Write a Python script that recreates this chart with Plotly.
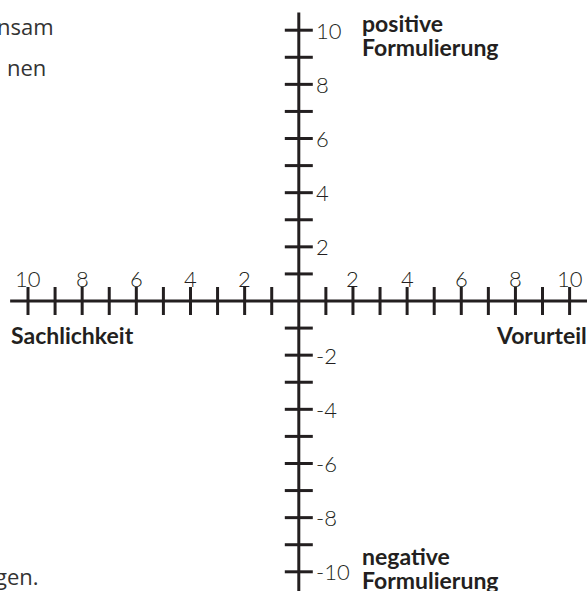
import plotly.graph_objects as go

# quadrant scale from -10 to 10 on both axes
x_ticks = [-10, -9, -8, -7, -6, -5, -4, -3, -2, -1, 1, 2, 3, 4, 5, 6, 7, 8, 9, 10]
y_ticks = [-10, -9, -8, -7, -6, -5, -4, -3, -2, -1, 1, 2, 3, 4, 5, 6, 7, 8, 9, 10]
x_label_vals = [-10, -8, -6, -4, -2, 2, 4, 6, 8, 10]
x_label_text = ["10", "8", "6", "4", "2", "2", "4", "6", "8", "10"]
y_label_vals = [10, 8, 6, 4, 2, -2, -4, -6, -8, -10]
y_label_text = ["10", "8", "6", "4", "2", "-2", "-4", "-6", "-8", "-10"]

# axis extents (end of the drawn lines)
x_axis_ends = [-10.66, 11.5]
y_axis_ends = [10.65, -11.5]

W, H = 587, 591
ORIGIN_X, ORIGIN_Y = 298.8, 301.0
PX_PER_UNIT = 27.08
INK = "#231f20"
LIGHT = dict(family="Lato", size=22, color=INK, weight=300)
BOLD = dict(family="Lato", size=23, color=INK, weight=700)
BODY = dict(family="Open Sans", size=22, color="#333333")


def px_x(p):
    return p / W


def px_y(p):
    return 1 - p / H


fig = go.Figure()

fig.add_trace(go.Scatter(x=x_axis_ends, y=[0, 0], mode="lines",
                         line=dict(color=INK, width=3), hoverinfo="skip"))
fig.add_trace(go.Scatter(x=[0, 0], y=y_axis_ends, mode="lines",
                         line=dict(color=INK, width=3), hoverinfo="skip"))
fig.add_trace(go.Scatter(x=x_ticks, y=[0] * len(x_ticks), mode="markers",
                         marker=dict(symbol="line-ns", size=20,
                                     line=dict(color=INK, width=3)),
                         hoverinfo="skip"))
fig.add_trace(go.Scatter(x=[0] * len(y_ticks), y=y_ticks, mode="markers",
                         marker=dict(symbol="line-ew", size=20,
                                     line=dict(color=INK, width=3)),
                         hoverinfo="skip"))

annotations = []
for v, t in zip(x_label_vals, x_label_text):
    annotations.append(dict(x=v, y=0, xref="x", yref="y", text=t, showarrow=False,
                            xanchor="center", yanchor="middle", yshift=23, font=LIGHT))
for v, t in zip(y_label_vals, y_label_text):
    annotations.append(dict(x=0, y=v, xref="x", yref="y", text=t, showarrow=False,
                            xanchor="left", yanchor="middle", xshift=15, font=LIGHT))

# axis captions
captions = [
    ("positive", 360, 23, "left"),
    ("Formulierung", 360, 47, "left"),
    ("negative", 360, 556, "left"),
    ("Formulierung", 360, 580, "left"),
    ("Sachlichkeit", 9, 335, "left"),
    ("Vorurteil", 589, 335, "right"),
]
for text, px, py, anchor in captions:
    annotations.append(dict(x=px_x(px), y=px_y(py), xref="paper", yref="paper",
                            text=text, showarrow=False, xanchor=anchor,
                            yanchor="middle", font=BOLD))

# cut-off body text from the page
fragments = [("nsam", 56, 26), ("nen", 48, 67), ("gen.", 41, 576)]
for text, px, py in fragments:
    annotations.append(dict(x=px_x(px), y=px_y(py), xref="paper", yref="paper",
                            text=text, showarrow=False, xanchor="right",
                            yanchor="middle", font=BODY))

fig.update_layout(
    width=W, height=H, autosize=False,
    margin=dict(l=0, r=0, t=0, b=0),
    paper_bgcolor="white", plot_bgcolor="white",
    showlegend=False,
    xaxis=dict(visible=False,
               range=[-ORIGIN_X / PX_PER_UNIT, (W - ORIGIN_X) / PX_PER_UNIT]),
    yaxis=dict(visible=False,
               range=[-(H - ORIGIN_Y) / PX_PER_UNIT, ORIGIN_Y / PX_PER_UNIT]),
    annotations=annotations,
)

# drop the browser's default body margin so the figure fills the window
fig.write_html("out.html",
               config={"displayModeBar": False},
               post_script="document.body.style.margin='0';"
                           "document.body.style.overflow='hidden';")
